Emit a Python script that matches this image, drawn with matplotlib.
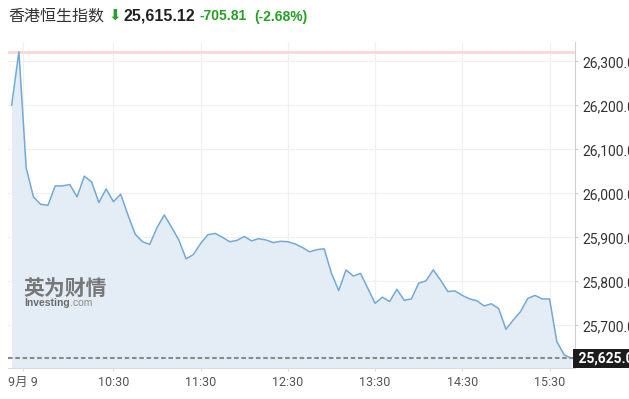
import matplotlib
matplotlib.use("Agg")
import matplotlib.pyplot as plt
from matplotlib.transforms import blended_transform_factory

plt.rcParams['font.family'] = ['Roboto', 'Noto Sans CJK SC', 'DejaVu Sans']

# 5-minute closes, 09:20 .. 15:45 (index based x axis)
prices = [26200, 26322, 26058, 25992, 25975, 25973, 26017, 26017, 26020, 25992,
          26039, 26026, 25979, 26010, 25981, 25998, 25951, 25907, 25890, 25884,
          25922, 25951, 25923, 25894, 25851, 25861, 25886, 25906, 25909, 25900,
          25890, 25893, 25902, 25892, 25897, 25894, 25888, 25891, 25890, 25885,
          25877, 25867, 25872, 25874, 25818, 25779, 25826, 25812, 25818, 25784,
          25750, 25764, 25754, 25782, 25757, 25760, 25796, 25801, 25826, 25803,
          25777, 25778, 25768, 25760, 25756, 25744, 25749, 25738, 25691, 25712,
          25731, 25761, 25768, 25760, 25760, 25663, 25633, 25625]
day_high = 26322
last_price = 25625.0
tick_idx = [1.5, 14, 26, 38, 50, 62, 74]
tick_labels = ['9月 9', '10:30', '11:30', '12:30', '13:30', '14:30', '15:30']
y_ticks = [25700, 25800, 25900, 26000, 26100, 26200, 26300]

title_name = '香港恒生指数'
title_price = '25,615.12'
title_change = '-705.81'
title_pct = '(-2.68%)'

W, H = 629, 399
fig = plt.figure(figsize=(W / 100, H / 100), dpi=100, facecolor='white')
ax = fig.add_axes([8 / W, 1 - 368 / H, (575 - 8) / W, (368 - 42) / H])

x = list(range(len(prices)))
ymin, ymax = 25603, 26344
ax.fill_between(x, prices, ymin, color='#e4edf5', lw=0, zorder=1)
ax.plot(x, prices, color='#72a9d8', lw=1.1, zorder=3)
ax.axhline(day_high, color='#ffd3d3', lw=1.8, zorder=2)
ax.axhline(last_price, color='#8a8a8a', lw=1.5, ls=(0, (2.2, 1.3)), zorder=4)

ax.set_xlim(-0.5, len(prices) - 0.5)
ax.set_ylim(ymin, ymax)

ax.set_xticks(tick_idx)
ax.set_xticklabels(tick_labels)
ax.set_yticks(y_ticks)
ax.set_yticklabels([f'{v:,.1f}' for v in y_ticks])
ax.yaxis.tick_right()
ax.grid(True, color='#f0f0f0', lw=0.9, zorder=0)
ax.set_axisbelow(True)

for s in ['left', 'top']:
    ax.spines[s].set_visible(False)
ax.spines['bottom'].set_color('#dcdcdc')
ax.spines['right'].set_color('#d0d0d0')
ax.tick_params(axis='x', colors='#dcdcdc', labelcolor='#555555', length=2.5, pad=3.5, labelsize=9)
ax.tick_params(axis='y', colors='#d0d0d0', labelcolor='#333333', length=2.5, pad=2.5, labelsize=10)

# last price tag
trans = blended_transform_factory(ax.transAxes, ax.transData)
ax.text(1.0, last_price, ' ' + f'{last_price:,.1f}', transform=trans, ha='left', va='center',
        color='white', fontsize=10, fontweight='bold', clip_on=False, zorder=6,
        bbox=dict(boxstyle='square,pad=0.18', fc='#1c1c1c', ec='none'))

# watermark
fig.text(23 / W, 1 - 288 / H, '英为财情', fontsize=15, fontweight='bold', color='#6a6a6a',
         family=['Noto Sans CJK SC', 'DejaVu Sans'], va='center', ha='left', alpha=0.9)
inv = fig.text(24 / W, 1 - 303 / H, 'Investing', fontsize=7.5, fontweight='bold', color='#6a6a6a',
               family='Liberation Sans', va='center', ha='left')
fig.canvas.draw()
bb = inv.get_window_extent()
fig.text((bb.x1 + 0.5) / W, 1 - 303 / H, '.com', fontsize=7.5, color='#8a8a8a',
         family='Liberation Sans', va='center', ha='left')

# header
fig.text(8 / W, 1 - 16 / H, title_name, fontsize=11.5, color='#333333',
         family=['Noto Sans CJK SC', 'DejaVu Sans'], va='center', ha='left')
fig.text(108 / W, 1 - 16 / H, '⬇', fontsize=11, color='#2a9d2a',
         family='DejaVu Sans', va='center', ha='left')
fig.text(123 / W, 1 - 16 / H, title_price, fontsize=11.5, fontweight='bold', color='#222222',
         family='Liberation Sans', va='center', ha='left')
fig.text(200 / W, 1 - 16.5 / H, title_change, fontsize=10, fontweight='bold', color='#25a025',
         family='Liberation Sans', va='center', ha='left')
fig.text(254 / W, 1 - 16.5 / H, title_pct, fontsize=10, fontweight='bold', color='#25a025',
         family='Liberation Sans', va='center', ha='left')

fig.savefig('out.png', dpi=100, facecolor='white')
